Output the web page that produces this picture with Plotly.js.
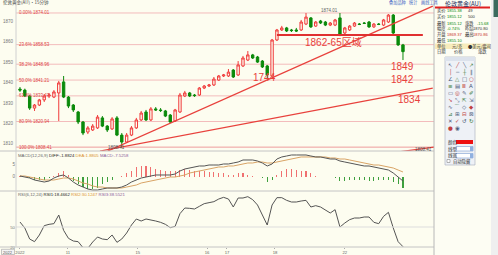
<!DOCTYPE html>
<html><head><meta charset="utf-8">
<script src="https://cdn.plot.ly/plotly-3.0.1.min.js"></script>
<style>html,body{margin:0;padding:0;background:#fdfdf0;}#chart{width:498px;height:255px;}</style>
</head><body><div id="chart"></div>
<script>
// ---------- DATA ----------
const candleIdx = [...Array(80).keys()];
const openP = [1836.8,1836.3,1833.4,1827.5,1829.0,1831.5,1833.4,1832.9,1834.9,1840.3,
1832.9,1829.0,1825.6,1820.7,1815.8,1816.8,1817.8,1822.7,1818.7,1817.3,
1822.7,1814.3,1810.9,1814.3,1817.8,1821.7,1825.6,1821.7,1827.1,1826.6,
1826.1,1824.1,1821.2,1825.6,1833.4,1834.9,1833.9,1833.9,1837.3,1838.3,
1838.8,1841.2,1843.2,1843.2,1846.1,1843.7,1848.1,1851.0,1853.5,1852.5,
1850.5,1848.1,1843.2,1860.8,1865.7,1866.7,1865.7,1865.7,1865.7,1868.6,
1871.6,1867.6,1870.1,1869.6,1868.1,1868.1,1871.6,1864.2,1865.7,1867.6,
1868.6,1869.1,1869.6,1867.2,1868.6,1868.1,1869.6,1873.0,1863.2,1858.4];
const closeP = [1836.3,1833.4,1827.5,1829.0,1831.5,1833.4,1833.9,1835.4,1839.8,1832.9,
1828.5,1826.6,1820.7,1815.3,1817.8,1818.7,1823.1,1818.7,1816.8,1822.2,
1814.3,1810.9,1814.3,1817.8,1821.7,1825.1,1821.7,1827.1,1826.6,1826.3,
1823.6,1820.7,1826.6,1833.9,1834.9,1833.4,1833.6,1837.3,1838.3,1838.8,
1841.7,1843.2,1843.7,1845.1,1842.7,1848.6,1852.0,1853.5,1852.0,1850.0,
1847.6,1843.7,1860.8,1865.7,1866.7,1865.2,1865.4,1865.2,1869.6,1872.0,
1867.2,1869.6,1869.1,1868.1,1869.1,1870.6,1863.2,1866.7,1867.6,1869.1,
1868.4,1868.9,1867.2,1868.6,1868.4,1870.6,1873.0,1864.2,1858.4,1855.1];
const highP = [1837.8,1837.0,1833.9,1829.5,1832.0,1834.4,1834.9,1836.3,1840.8,1843.2,
1833.4,1829.5,1826.1,1821.2,1818.7,1819.7,1824.1,1823.6,1819.2,1823.1,
1823.6,1815.3,1815.3,1818.7,1822.7,1826.1,1826.6,1828.0,1828.0,1827.5,
1826.6,1824.6,1827.1,1834.9,1835.9,1835.4,1834.4,1837.8,1838.8,1839.3,
1842.7,1843.7,1844.2,1846.6,1846.6,1850.5,1853.0,1855.4,1854.0,1853.0,
1851.0,1848.6,1861.3,1866.2,1867.7,1867.2,1866.2,1866.7,1870.6,1874.0,
1872.0,1870.1,1870.6,1870.1,1869.6,1871.1,1874.0,1867.2,1868.1,1869.6,
1869.1,1869.6,1870.1,1869.1,1869.1,1871.1,1873.5,1873.5,1863.7,1858.9];
const lowP = [1835.4,1832.9,1826.6,1826.1,1828.5,1830.5,1832.4,1832.4,1821.2,1832.4,
1827.5,1825.6,1819.7,1814.3,1814.8,1816.3,1817.3,1818.2,1815.8,1816.8,
1813.8,1808.4,1810.4,1813.8,1817.3,1821.2,1821.2,1821.2,1826.1,1825.6,
1823.1,1820.2,1820.7,1825.1,1832.9,1832.9,1833.0,1833.4,1836.8,1837.8,
1838.3,1840.8,1842.7,1842.7,1842.2,1843.2,1847.6,1850.5,1851.5,1849.6,
1847.1,1842.2,1842.7,1860.3,1865.2,1864.7,1864.7,1864.7,1865.2,1868.1,
1866.7,1867.2,1868.6,1867.6,1867.6,1867.6,1862.7,1863.7,1865.2,1867.2,
1868.1,1868.6,1866.7,1866.7,1868.1,1867.6,1869.1,1863.7,1857.9,1851.0];

const macdDiff = [0.21,-0.21,-0.63,-1.46,-1.88,-2.29,-1.88,-0.63,0.21,0.63,
-0.63,-2.29,-3.54,-4.38,-5.21,-5.63,-5.63,-5.21,-4.79,-4.79,
-4.79,-4.38,-3.54,-2.29,-1.46,-0.63,-0.21,0.21,0.63,0.63,
0.63,0.63,1.04,2.29,3.13,3.54,3.96,4.38,4.38,4.79,
4.79,4.79,5.21,5.21,5.63,6.04,6.88,6.88,6.88,6.46,
5.63,4.38,5.21,7.29,8.13,8.54,8.96,8.96,8.96,8.96,
8.54,8.13,8.13,7.71,7.29,7.29,6.46,6.04,5.63,5.21,
4.79,4.38,4.38,3.96,3.54,3.13,2.71,1.46,-0.21,-1.88];
const macdDea = [0.21,0.21,-0.21,-0.63,-1.04,-1.46,-1.46,-1.46,-1.04,-0.63,
-0.63,-1.04,-1.88,-2.71,-3.13,-3.96,-4.38,-4.38,-4.79,-4.79,
-4.79,-4.79,-4.38,-3.96,-3.54,-2.71,-2.29,-1.88,-1.46,-1.04,
-0.63,-0.21,-0.21,0.21,0.63,1.46,1.88,2.29,2.71,3.13,
3.54,3.96,3.96,4.38,4.38,4.79,5.21,5.63,5.63,6.04,
6.04,5.63,5.63,6.04,6.46,6.88,7.29,7.71,8.13,8.13,
8.13,8.13,8.13,8.13,7.71,7.71,7.29,7.29,6.88,6.46,
6.04,5.63,5.21,4.79,4.79,4.38,3.96,3.54,2.71,1.88];
const macdHist = [0.4,-0.4,-0.8,-1.3,-1.3,-1.3,-0.8,0.4,1.3,2.1,
0.8,-1.7,-3.3,-4.2,-5.0,-5.4,-4.6,-3.3,-2.1,-1.3,
-0.4,0.4,1.3,2.5,3.8,4.2,4.2,3.8,3.3,2.9,
2.5,2.1,2.1,2.9,3.3,2.9,2.5,2.5,2.1,1.7,
1.7,1.3,1.3,0.8,0.8,1.3,1.3,0.8,0.4,0.0,
-0.8,-2.1,-1.3,0.8,2.5,3.3,3.3,2.9,2.5,2.1,
1.3,0.4,0.0,-0.4,-0.4,-0.8,-1.7,-1.7,-1.3,-1.3,
-1.3,-1.3,-1.7,-1.7,-1.3,-1.3,-1.3,-2.1,-3.3,-4.6];
const rsi = [57.5,48.5,32,28,38,52,54,55,68,45,
33,29,28,19,18,27.5,35,32,31,38,
27,32,41,53,62,59,62,61,59,57,
54,49,51,70,78.5,78,77,81,85,86.5,
88,92,94.5,92,80,93.5,93.5,95.5,91,83,
69,53,83,94,94,90,87.5,87.5,89,90,
80,82,80,76,71,76,50,56,61,63.5,
63.5,65,65,57,55,66,72,48.5,28,20.5];

const fibPct = ['0.00%','23.6%','38.2%','50.0%','61.8%','80.9%','100.0%'];
const fibPrice = [1874.01,1858.53,1848.96,1841.21,1833.47,1820.94,1808.41];
const priceTicks = [1810,1820,1830,1840,1850,1860,1870];
const dateTickIdx = [0,9.9,24.3,38.6,42.7,52.6,67];
const dateTickText = ['2022','11','15','16','17','18','22'];

// drawn lines (index, price)
const trendX0 = [18.1,16.5,77.9], trendY0 = [1806.5,1806.5,1806.0];
const trendX1 = [85.15,85.15,85.6], trendY1 = [1877.4,1837.3,1808.5];
const zoneIdx = [53,83.1], zonePrice = [1863.2,1863.2];
const noteText = ['1862-65区域','1744','1849','1842','1834'];
const noteIdx = [64.7,50.5,78.8,78.8,80.4];
const notePrice = [1859.8,1842.7,1847.6,1841.7,1831.5];

// ---------- LAYOUT HELPERS ----------
const W=498,H=255, BG='#fdfdf0';
const PX=x=>x/W, PY=y=>1-y/H;
const FONT='Liberation Sans, Arial, Noto Sans CJK SC, sans-serif';
const CJK='Noto Sans CJK SC, Liberation Sans, sans-serif';
const ann=[], shapes=[];
function T(text,x,y,size,color,anchor,fam){
  ann.push({text:text,xref:'paper',yref:'paper',x:PX(x),y:PY(y),xanchor:anchor||'left',yanchor:'middle',
    showarrow:false,borderpad:0,font:{size:size,color:color,family:fam||CJK}});
}
function R(x0,y0,x1,y1,fill,line){
  shapes.push({type:'rect',xref:'paper',yref:'paper',x0:PX(x0),x1:PX(x1),y0:PY(y0),y1:PY(y1),
    fillcolor:fill,line:{color:line||fill,width:line?0.6:0},layer:'above'});
}
function L(x0,y0,x1,y1,color,w){
  shapes.push({type:'line',xref:'paper',yref:'paper',x0:PX(x0),x1:PX(x1),y0:PY(y0),y1:PY(y1),line:{color:color,width:w||1}});
}

// ---------- TRACES ----------
const traces=[];
traces.push({type:'candlestick',x:candleIdx,open:openP,high:highP,low:lowP,close:closeP,
  xaxis:'x',yaxis:'y',whiskerwidth:0,
  increasing:{line:{color:'#f03a3a',width:1},fillcolor:BG},
  decreasing:{line:{color:'#0b8a0b',width:1},fillcolor:'#0b8a0b'},hoverinfo:'skip'});
for(let k=0;k<trendX0.length;k++){
  traces.push({type:'scatter',mode:'lines',x:[trendX0[k],trendX1[k]],y:[trendY0[k],trendY1[k]],
    xaxis:'x',yaxis:'y',line:{color:'#e8413c',width:1.3},hoverinfo:'skip'});
}
traces.push({type:'scatter',mode:'lines',x:zoneIdx,y:zonePrice,xaxis:'x',yaxis:'y',
  line:{color:'#e03030',width:2},hoverinfo:'skip'});
traces.push({type:'bar',x:candleIdx,y:macdHist,xaxis:'x2',yaxis:'y2',width:0.22,
  marker:{color:macdHist.map(v=>v>=0?'#f07070':'#3ea03e'),line:{width:0}},hoverinfo:'skip'});
traces.push({type:'scatter',mode:'lines',x:candleIdx,y:macdDea,xaxis:'x2',yaxis:'y2',
  line:{color:'#d9a466',width:1},hoverinfo:'skip'});
traces.push({type:'scatter',mode:'lines',x:candleIdx,y:macdDiff,xaxis:'x2',yaxis:'y2',
  line:{color:'#555555',width:1},hoverinfo:'skip'});
traces.push({type:'scatter',mode:'lines',x:candleIdx,y:rsi,xaxis:'x3',yaxis:'y3',
  line:{color:'#555555',width:1},hoverinfo:'skip'});

// ---------- SHAPES ----------
fibPrice.forEach((p,i)=>{
  shapes.push({type:'line',xref:'x domain',yref:'y',x0:0,x1:1,y0:p,y1:p,layer:'below',
    line:{color:i===6?'#ee9c9c':'#f3bcbc',width:1}});
  ann.push({text:fibPct[i]+' '+p.toFixed(2),xref:'x domain',yref:'y',x:0.004,y:p,xanchor:'left',yanchor:'middle',
    showarrow:false,borderpad:0,font:{size:4.5,color:'#e04848',family:FONT}});
});
shapes.push({type:'line',xref:'x3 domain',yref:'y3',x0:0,x1:1,y0:50,y1:50,line:{color:'#dddddd',width:1}});
L(0,151,434,151,'#c4c4c4',1);
L(0,191,434,191,'#c4c4c4',1);
L(0,247,434,247,'#c4c4c4',1);
L(16,0,16,247,'#d0d0d0',1);

// right info panel
R(434,0,498,255,'#fdfdf3');
L(434,0,434,255,'#b8b8b8',1);
R(491,0,498,255,'#efefef');
R(493.5,0,498,17,'#3b6b5e');
R(435,6.6,490,8.4,'#e02020');
R(435,43.5,490,49,'#f7ecbc');
// toolbox
R(445,57,475,165,'#eef1f6','#a4acbc');
R(445,57,475,61,'#dce2ec');
R(456,140,473,144,'#ee1111');
R(456,146.5,473,151,'#ffffff','#7a9cd0');
R(470,146.5,473,151,'#8fb0e0');
R(456,153.5,473,158,'#ffffff','#7a9cd0');
R(470,153.5,473,158,'#8fb0e0');
R(447,159.5,450,162.5,'#ffffff','#888888');

// ---------- TEXT ----------
T('伦敦黄金(AU)·15分钟',2,3,4.5,'#444');
T('叠加品种',388,3,4.2,'#3a62c4');
T('统计',408,3,4.2,'#3a62c4');
T('画线工具',420,3,4.2,'#3a62c4');
T('1874.01',320,11,4.5,'#666',null,FONT);
T('1808.41',107,147.5,4.5,'#555',null,FONT);
T('1808.41',414,149,4.5,'#555',null,FONT);
noteText.forEach((t,i)=>{
  ann.push({text:t,xref:'x',yref:'y',x:noteIdx[i],y:notePrice[i],xanchor:'center',yanchor:'middle',
    showarrow:false,borderpad:0,font:{size:10,color:'#e8413c',family:'Liberation Sans Narrow, Liberation Sans, Noto Sans CJK SC, sans-serif'}});
});
T('MACD(12,26,9) <span style="color:#222">DIFF:-1.8824</span> <span style="color:#d9902e">DEA:1.8805</span> <span style="color:#8a5a9a">MACD:-7.5258</span>',17,155,4.3,'#666',null,FONT);
T('RSI(6,12,24) <span style="color:#222">RSI1:18.4662</span> <span style="color:#d9902e">RSI2:30.1247</span> <span style="color:#8a5a9a">RSI3:38.5521</span>',17,194.5,4.3,'#666',null,FONT);
R(1.5,249.3,14.5,254.5,'#f4f4f4','#a0a0a0');
T('2022',8,252,4.0,'#555','center',FONT);

// info panel rows
T('伦敦黄金(AU)',463,3.6,6,'#1c2a5a','center');
const G='#078a07', K='#333', RD='#c8302a';
const S1=4.3, S2=4.1;
T('卖价',435.5,11,S1,K); T('1855.38',446,11,S2,G,null,FONT); T('49',467,11,S2,K,null,FONT);
T('买价',435.5,17,S1,K); T('1855.12',446,17,S2,G,null,FONT); T('500',467,17,S2,K,null,FONT);
T('最新',435.5,23,S1,K); T('1855.12',446,23,S2,G,null,FONT); T('涨跌',464,23,S1,K); T('-15.68',490,23,S2,G,'right',FONT);
T('幅度',435.5,28.8,S1,K); T('-0.74%',446,28.8,S2,G,null,FONT); T('昨结',464,28.8,S1,K); T('1870.80',490,28.8,S2,K,'right',FONT);
T('开盘',435.5,34.5,S1,K); T('1869.37',446,34.5,S2,RD,null,FONT); T('最高',464,34.5,S1,K); T('1870.86',490,34.5,S2,RD,'right',FONT);
T('最低',435.5,40,S1,K); T('1855.10',446,40,S2,G,null,FONT);
T('单位',435.5,46.3,S1,K); T('元/克',457,46.3,S1,K,'center'); T('●美元/盎司',479,46.3,S1,K,'center');
T('日期',435.5,52,S1,K); T('价格',458,52,S1,K,'center'); T('涨跌',482,52,S1,K,'center');

// toolbox
const toolIcons=['↖','╱','╲','↗','│','─','┼','∥','∠','△','□','○','≡','▤','Ⅲ','A','▭','◎','✎','✐',
  '↘','⤡','⇱','⇲','∿','⌒','◇','◆','⊿','⊞','⊟','⊠','✕','✓','↺','↻','●','◉'];
const iconCol=['#4a5a7a','#c04040','#4a5a7a','#3a7a3a'];
toolIcons.forEach((g,i)=>{
  const c=i%4, r=Math.floor(i/4);
  T(g,450+c*7,65+r*7,5.5,iconCol[(i+r)%4],'center','DejaVu Sans, sans-serif');
});
T('颜色',447,142,4.5,K); T('线型',447,148.8,4.5,K); T('线宽',447,155.8,4.5,K);
T('自动隐藏',451.5,161,4.3,K);

// ---------- LAYOUT ----------
const xDom=[PX(16),PX(434)], xRange=[-0.82,85.4];
const axBase={showgrid:false,zeroline:false,fixedrange:true};
const layout={
  width:W,height:H,margin:{l:0,r:0,t:0,b:0},paper_bgcolor:BG,plot_bgcolor:BG,
  showlegend:false,font:{family:FONT,size:5,color:'#666'},bargap:0,
  xaxis:Object.assign({},axBase,{domain:xDom,range:xRange,anchor:'y',showticklabels:false,rangeslider:{visible:false}}),
  yaxis:Object.assign({},axBase,{domain:[PY(151),PY(3)],range:[1806.52,1878.89],anchor:'x',
    tickvals:priceTicks,tickfont:{size:4.5,color:'#777'},ticks:'',ticklabelstandoff:2}),
  xaxis2:Object.assign({},axBase,{domain:xDom,range:xRange,anchor:'y2',matches:'x',showticklabels:false}),
  yaxis2:Object.assign({},axBase,{domain:[PY(191),PY(153)],range:[-6.04,9.79],anchor:'x2',
    tickvals:[0,5],tickfont:{size:4.5,color:'#777'},ticks:''}),
  xaxis3:Object.assign({},axBase,{domain:xDom,range:xRange,anchor:'y3',matches:'x',
    tickvals:dateTickIdx,ticktext:dateTickText,ticks:'outside',ticklen:1,tickcolor:'#aaa',
    ticklabelstandoff:0,tickfont:{size:4.2,color:'#666'}}),
  yaxis3:Object.assign({},axBase,{domain:[PY(247),PY(192)],range:[20,102.5],anchor:'x3',
    tickvals:[20,50],tickfont:{size:4.3,color:'#777'},ticks:''}),
  shapes:shapes,annotations:ann
};
Plotly.newPlot('chart',traces,layout,{displayModeBar:false,staticPlot:true});
</script></body></html>
